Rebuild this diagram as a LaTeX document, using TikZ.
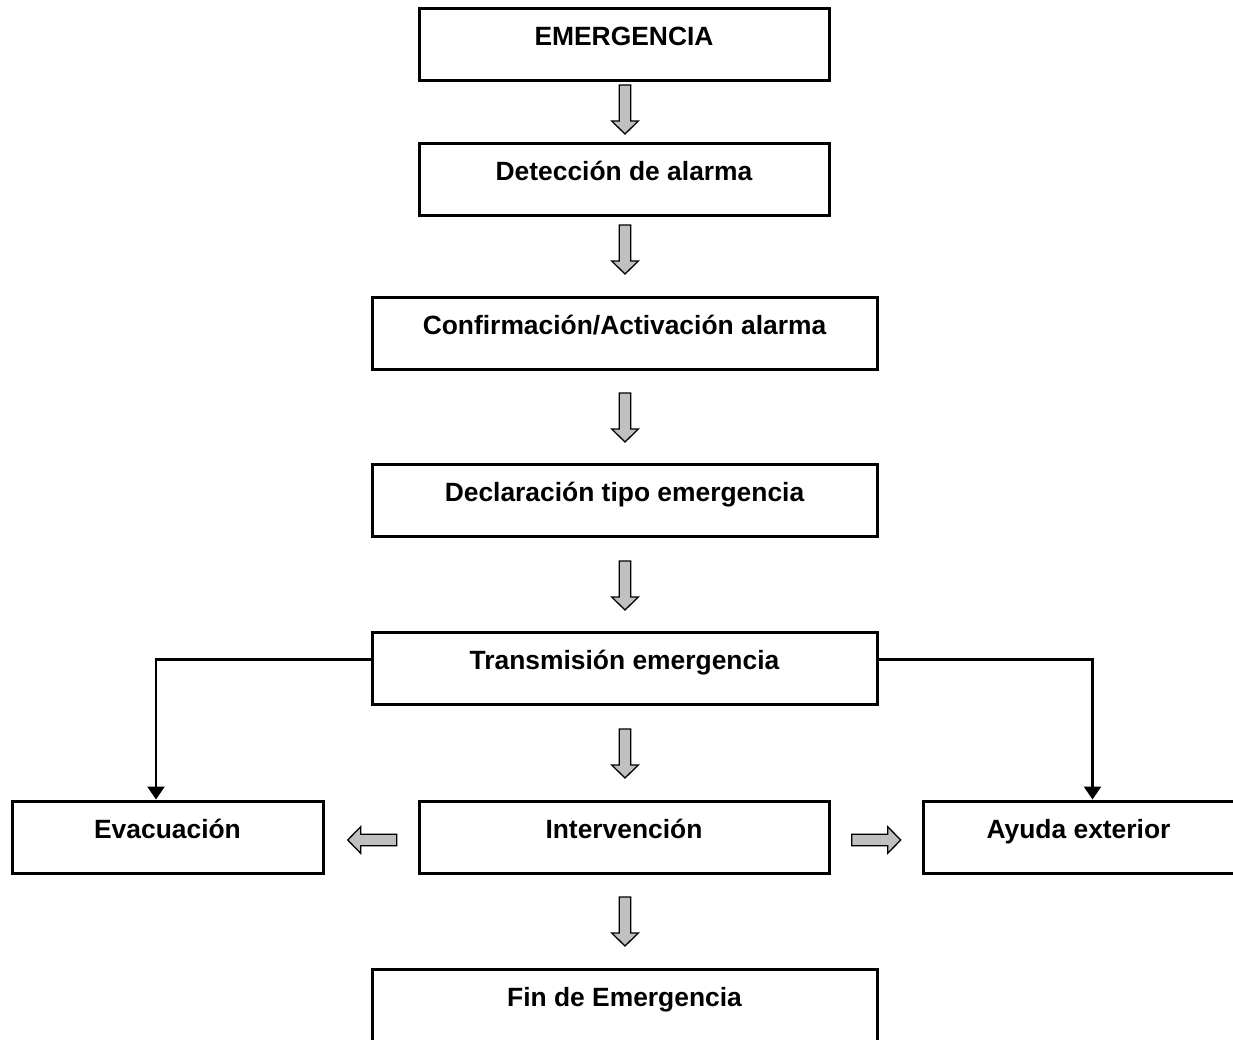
\documentclass[tikz,border=0pt]{standalone}
\usepackage{fontspec}
\setmainfont{Liberation Sans}
\usetikzlibrary{arrows.meta}
\definecolor{arrowgray}{HTML}{C0C0C0}
\tikzset{
  box/.style={draw=black, line width=3pt, rectangle, inner sep=0pt,
    minimum height=72pt, text height=37pt, text depth=35pt,
    font=\fontsize{26.4pt}{30pt}\selectfont\bfseries},
  narrowbox/.style={box, minimum width=410pt},
  widebox/.style={box, minimum width=505pt},
  sidebox/.style={box, minimum width=311pt},
  conn/.style={draw=black, line width=2.6pt, -{Triangle[width=17pt,length=13pt]}},
  blockarrow/.pic={
    \draw[fill=arrowgray, draw=black, line width=1.3pt, line join=miter]
      (0,-5.7) -- (36,-5.7) -- (36,-13.3) -- (49,0) -- (36,13.3) -- (36,5.7) -- (0,5.7) -- cycle;
  }
}
\begin{document}
\begin{tikzpicture}[x=1pt,y=-1pt]
\clip (0,0) rectangle (1233,1039);
\fill[white] (0,0) rectangle (1233,1039);

\node[narrowbox] (E)   at (624,44)    {EMERGENCIA};
\node[narrowbox] (D)   at (624,179)   {Detección de alarma};
\node[widebox]   (C)   at (624.5,333) {Confirmación/Activación alarma};
\node[widebox]   (Dec) at (624.5,500) {Declaración tipo emergencia};
\node[widebox]   (T)   at (624.5,668) {Transmisión emergencia};
\node[sidebox]   (Ev)  at (167.5,837) {Evacuación};
\node[narrowbox] (I)   at (624,837)   {Intervención};
\node[sidebox]   (A)   at (1078.5,837){Ayuda exterior};
\node[widebox]   (F)   at (624.5,1005){Fin de Emergencia};

% block arrows
\pic[rotate=-90] at (625,85)  {blockarrow};
\pic[rotate=-90] at (625,225) {blockarrow};
\pic[rotate=-90] at (625,393) {blockarrow};
\pic[rotate=-90] at (625,561) {blockarrow};
\pic[rotate=-90] at (625,729) {blockarrow};
\pic[rotate=-90] at (625,897) {blockarrow};
\pic[rotate=180] at (396.7,840) {blockarrow};
\pic at (851.7,840) {blockarrow};

% connectors
\draw[conn] ([yshift=8.5pt]T.west) -| ([xshift=-11.5pt]Ev.north);
\draw[conn] ([yshift=8.5pt]T.east) -| ([xshift=14pt]A.north);
\end{tikzpicture}
\end{document}
